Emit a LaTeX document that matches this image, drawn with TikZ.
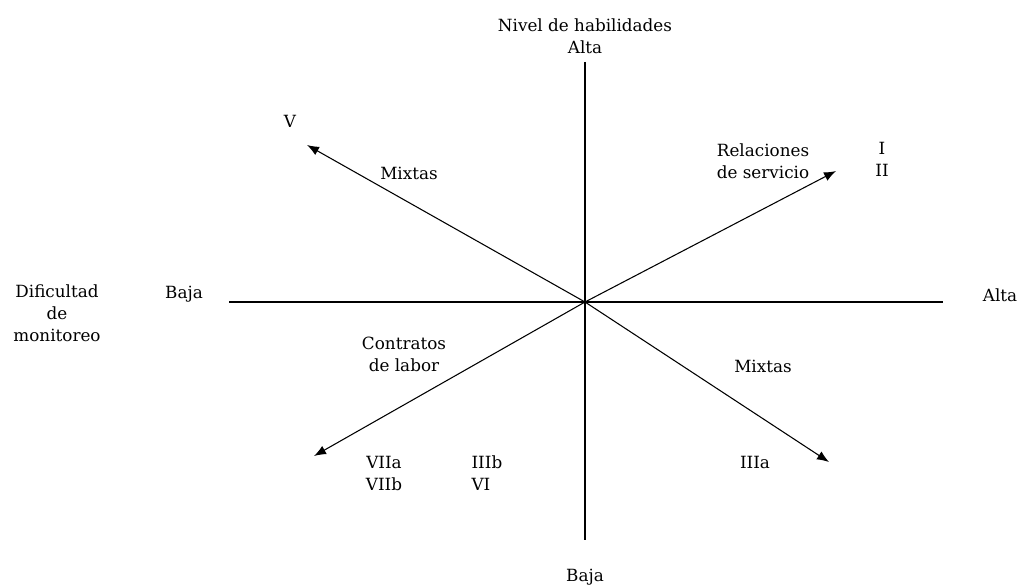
\documentclass[tikz,border=0pt]{standalone}
\usepackage{fontspec}
\setmainfont{DejaVu Serif}
\usetikzlibrary{arrows.meta,positioning}

\tikzset{
  lbl/.style={font=\fontsize{12.6}{16.5}\selectfont, inner sep=1pt, align=center},
  eje/.style={line width=1pt},
  flecha/.style={line width=0.8pt, -{Latex[length=9pt,width=7pt]}}
}

\begin{document}
\begin{tikzpicture}[x=0.75pt,y=-0.75pt]
\useasboundingbox (0,0) rectangle (1020,585);

% Ejes
\coordinate (o) at (585,302);
\coordinate (arr) at (585,62);
\coordinate (abj) at (585,540);
\coordinate (izq) at (229,302);
\coordinate (der) at (943,302);
\draw[eje] (arr) -- (abj);
\draw[eje] (izq) -- (der);

% Flechas
\coordinate (ne) at (836,171);
\coordinate (no) at (307,145);
\coordinate (so) at (314,456);
\coordinate (se) at (829,462);
\draw[flecha] (o) -- (ne);
\draw[flecha] (o) -- (no);
\draw[flecha] (o) -- (so);
\draw[flecha] (o) -- (se);

% Etiquetas
\node[lbl] (nivel) at (585,25) {Nivel de habilidades};
\node[lbl] (alta1) at (585,47) {Alta};
\node[lbl] (baja1) at (585,577) {Baja};
\node[lbl] (dific) at (57,313) {Dificultad\\de\\monitoreo};
\node[lbl] (baja2) at (184,294) {Baja};
\node[lbl] (alta2) at (1000,295) {Alta};
\node[lbl] (v) at (290,121) {V};
\node[lbl] (mix1) at (409,173) {Mixtas};
\node[lbl] (rel) at (763,161) {Relaciones\\de servicio};
\node[lbl] (i) at (882,159) {I\\II};
\node[lbl] (contr) at (404,354) {Contratos\\de labor};
\node[lbl] (mix2) at (763,366) {Mixtas};
\node[lbl] (vii) at (384,473) {VIIa\\VIIb};
\node[lbl, align=left, anchor=west] (iiib) at (470,473) {IIIb\\VI};
\node[lbl] (iiia) at (755,462) {IIIa};
\end{tikzpicture}
\end{document}
